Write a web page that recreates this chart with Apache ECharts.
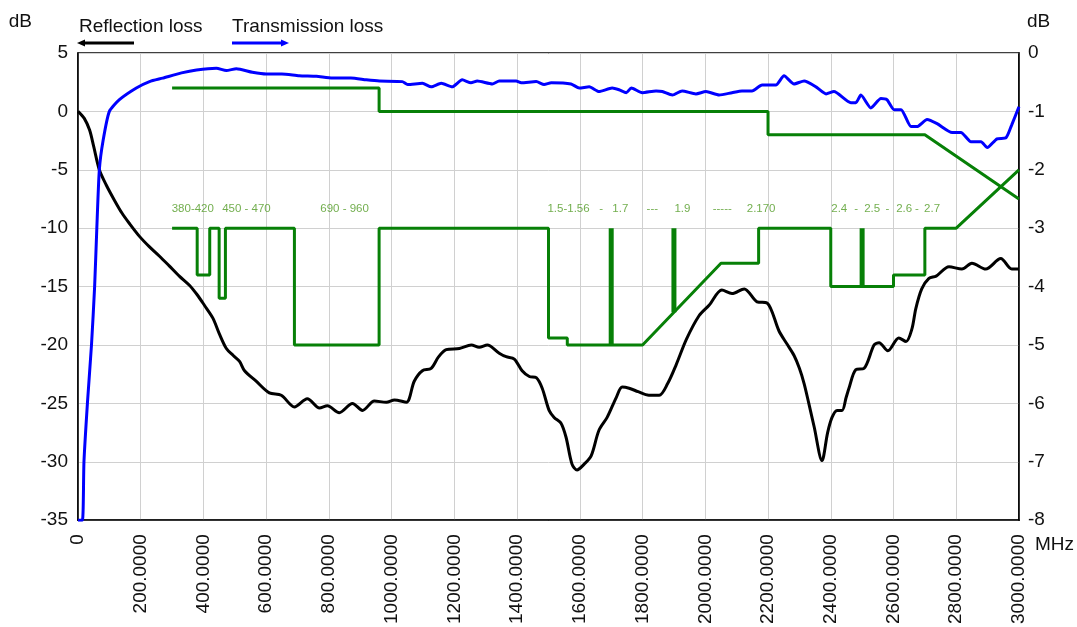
<!DOCTYPE html>
<html>
<head>
<meta charset="utf-8">
<title>Reflection / Transmission loss</title>
<script src="https://cdn.jsdelivr.net/npm/echarts@6/dist/echarts.min.js"></script>
<style>
  html, body { margin: 0; padding: 0; background: #fff; }
  #chart { width: 1077px; height: 627px; }
</style>
</head>
<body>
<div id="chart"></div>
<script>
// reflection loss, left axis [MHz, dB]
const reflectionLoss = [
  [0, 0], [20, -0.6], [37, -1.6], [50, -3], [68, -5], [90, -6.3], [116, -7.6], [140, -8.7],
  [164, -9.6], [196, -10.7], [228, -11.6], [260, -12.4], [290, -13.2], [323, -14.1], [356, -14.9],
  [380, -15.7], [403, -16.6], [430, -17.7], [450, -19], [473, -20.3], [495, -20.9], [515, -21.4],
  [531, -22.2], [568, -23.1], [610, -24.1], [648, -24.3], [690, -25.3], [731, -24.6], [770, -25.4],
  [795, -25.2], [833, -25.8], [875, -25], [907, -25.6], [945, -24.8], [983, -24.9], [1009, -24.7],
  [1047, -24.9], [1072, -23.1], [1098, -22.2], [1126, -22], [1150, -21], [1174, -20.4], [1216, -20.3],
  [1254, -20], [1279, -20.2], [1305, -20], [1343, -20.7], [1365, -21], [1391, -21.2], [1416, -22.2],
  [1439, -22.7], [1461, -22.8], [1480, -23.7], [1502, -25.6], [1518, -26.2], [1540, -26.7], [1556, -27.9],
  [1575, -30.2], [1591, -30.7], [1614, -30.2], [1636, -29.5], [1661, -27.3], [1687, -26.2], [1716, -24.5],
  [1735, -23.6], [1757, -23.7], [1786, -24], [1820, -24.3], [1853, -24.3], [1880, -23.3], [1907, -21.7],
  [1940, -19.5], [1980, -17.5], [2012, -16.6], [2053, -15.3], [2085, -15.6], [2124, -15.2], [2165, -16.3],
  [2197, -16.4], [2235, -18.8], [2260, -19.9], [2283, -20.9], [2300, -22], [2315, -23.3], [2330, -25],
  [2347, -27], [2372, -29.9], [2390, -27.5], [2404, -26.2], [2420, -25.6], [2436, -25.6], [2449, -24.5],
  [2458, -23.7], [2480, -22.1], [2506, -22], [2538, -20], [2554, -19.8], [2582, -20.5], [2617, -19.4],
  [2640, -19.7], [2659, -18.6], [2671, -16.9], [2690, -15.2], [2713, -14.3], [2736, -14.1], [2777, -13.3],
  [2818, -13.5], [2850, -13], [2894, -13.5], [2942, -12.6], [2977, -13.5], [3000, -13.5]
];

// transmission loss, right axis [MHz, dB]
const transmissionLoss = [
  [0, -8], [14, -8], [19, -7], [30, -6], [43, -5], [53, -4], [60, -3], [68, -2], [80, -1.5], [100, -1.0],
  [132, -0.8], [186, -0.6], [228, -0.49], [270, -0.43], [330, -0.34], [378, -0.29], [441, -0.26],
  [473, -0.3], [505, -0.27], [556, -0.33], [600, -0.36], [650, -0.36], [705, -0.39], [760, -0.4],
  [811, -0.43], [870, -0.43], [919, -0.46], [961, -0.48], [1034, -0.49], [1051, -0.54], [1098, -0.52],
  [1126, -0.58], [1158, -0.52], [1193, -0.58], [1225, -0.46], [1253, -0.51], [1273, -0.48], [1321, -0.53],
  [1343, -0.48], [1397, -0.48], [1413, -0.51], [1461, -0.49], [1486, -0.54], [1509, -0.51], [1572, -0.53],
  [1598, -0.6], [1630, -0.58], [1661, -0.66], [1703, -0.6], [1725, -0.63], [1748, -0.68], [1764, -0.6],
  [1799, -0.68], [1843, -0.65], [1863, -0.66], [1895, -0.72], [1926, -0.65], [1970, -0.7], [2002, -0.66],
  [2044, -0.72], [2085, -0.68], [2117, -0.65], [2149, -0.65], [2181, -0.55], [2225, -0.55], [2251, -0.39],
  [2283, -0.53], [2315, -0.48], [2353, -0.58], [2385, -0.7], [2410, -0.66], [2464, -0.85], [2480, -0.85],
  [2496, -0.72], [2528, -0.94], [2560, -0.78], [2579, -0.8], [2602, -0.97], [2624, -0.97], [2656, -1.26],
  [2675, -1.26], [2707, -1.14], [2739, -1.21], [2787, -1.36], [2815, -1.36], [2847, -1.52], [2879, -1.52],
  [2899, -1.62], [2930, -1.47], [2959, -1.45], [2977, -1.23], [3000, -0.92]
];

// transmission limit (right axis)
const transLimit = [
  [300, -0.6], [960, -0.6], [960, -1.0], [2200, -1.0], [2200, -1.4], [2700, -1.4], [3000, -2.5]
];

// reflection limit (left axis)
const reflLimit = [
  [300, -10], [380, -10], [380, -14], [420, -14], [420, -10], [450, -10], [450, -16], [470, -16],
  [470, -10], [690, -10], [690, -20], [960, -20], [960, -10], [1500, -10], [1500, -19.4], [1560, -19.4],
  [1560, -20], [1800, -20], [2050, -13], [2170, -13], [2170, -10], [2400, -10], [2400, -15], [2600, -15],
  [2600, -14], [2700, -14], [2700, -10], [2800, -10], [3000, -5]
];

// narrow band spikes [MHz, from dB, to dB]
const spikes = [[1700, -20, -10], [1900, -17.2, -10], [2500, -15, -10]];

// band labels
const bandX = [366, 537, 850, 1564, 1668, 1729, 1831, 1927, 2054, 2178, 2427, 2481, 2532, 2581, 2634, 2675, 2723];
const bandText = ['380-420', '450 - 470', '690 - 960', '1.5-1.56', '-', '1.7', '---', '1.9', '-----', '2.170',
  '2.4', '-', '2.5', '-', '2.6', '-', '2.7'];

const FONT = "'Liberation Sans', Arial, sans-serif";
const GREEN = '#078007';

const chart = echarts.init(document.getElementById('chart'));

const spikeData = [];
spikes.forEach(s => {
  spikeData.push([s[0], s[1]], [s[0], s[2]], [null, null]);
});

const bandData = bandX.map((x, i) => ({ value: [x, -8.3], name: bandText[i] }));

const option = {
  animation: false,
  backgroundColor: '#fff',
  textStyle: { fontFamily: FONT },
  grid: {
    left: 78, right: 57, top: 53, bottom: 104,
    show: true, borderColor: '#000', borderWidth: 1.5
  },
  xAxis: {
    type: 'value',
    min: 0, max: 3000, interval: 200,
    name: 'MHz',
    nameLocation: 'end',
    nameGap: 16,
    nameTextStyle: { fontSize: 19, color: '#111', fontFamily: FONT, verticalAlign: 'top', padding: [15, 0, 0, 0] },
    axisLine: { onZero: false, lineStyle: { color: '#000', width: 1.5 } },
    axisTick: { show: false },
    axisLabel: {
      rotate: 90, margin: 14, fontSize: 19, color: '#111', fontFamily: FONT,
      formatter: v => (v === 0 ? '0' : v.toFixed(4))
    },
    splitLine: { show: true, lineStyle: { color: '#d0d0d0', width: 1 } }
  },
  yAxis: [
    {
      type: 'value', position: 'left',
      min: -35, max: 5, interval: 5,
      name: 'dB', nameLocation: 'end', nameGap: 22,
      nameTextStyle: { fontSize: 19, color: '#111', fontFamily: FONT, align: 'right', padding: [0, 46, 0, 0] },
      axisLine: { show: true, onZero: false, lineStyle: { color: '#000', width: 1.5 } },
      axisTick: { show: false },
      axisLabel: { margin: 10, fontSize: 19, color: '#111', fontFamily: FONT },
      splitLine: { show: true, lineStyle: { color: '#d0d0d0', width: 1 } }
    },
    {
      type: 'value', position: 'right',
      min: -8, max: 0, interval: 1,
      name: 'dB', nameLocation: 'end', nameGap: 22,
      nameTextStyle: { fontSize: 19, color: '#111', fontFamily: FONT, align: 'left', padding: [0, 0, 0, 8] },
      axisLine: { show: true, onZero: false, lineStyle: { color: '#000', width: 1.5 } },
      axisTick: { show: false },
      axisLabel: { margin: 9, fontSize: 19, color: '#111', fontFamily: FONT },
      splitLine: { show: false }
    }
  ],
  graphic: [
    { type: 'text', left: 79, top: 17, style: { text: 'Reflection loss', font: '19px ' + FONT, fill: '#111' } },
    { type: 'line', shape: { x1: 82, y1: 43, x2: 134, y2: 43 }, style: { stroke: '#000', lineWidth: 3 } },
    { type: 'polygon', shape: { points: [[77, 43], [85, 39.5], [85, 46.5]] }, style: { fill: '#000' } },
    { type: 'text', left: 232, top: 17, style: { text: 'Transmission loss', font: '19px ' + FONT, fill: '#111' } },
    { type: 'line', shape: { x1: 232, y1: 43, x2: 284, y2: 43 }, style: { stroke: '#0000ff', lineWidth: 3 } },
    { type: 'polygon', shape: { points: [[289, 43], [281, 39.5], [281, 46.5]] }, style: { fill: '#0000ff' } }
  ],
  series: [
    {
      name: 'Transmission limit', type: 'line', yAxisIndex: 1,
      data: transLimit, showSymbol: false,
      lineStyle: { color: GREEN, width: 3 }
    },
    {
      name: 'Reflection limit', type: 'line', yAxisIndex: 0,
      data: reflLimit, showSymbol: false,
      lineStyle: { color: GREEN, width: 3 }
    },
    {
      name: 'Bands', type: 'line', yAxisIndex: 0,
      data: spikeData, showSymbol: false, connectNulls: false,
      lineStyle: { color: GREEN, width: 5, cap: 'butt' }
    },
    {
      name: 'Band labels', type: 'scatter', yAxisIndex: 0,
      data: bandData, symbolSize: 0, silent: true,
      label: {
        show: true, position: 'inside', formatter: '{b}',
        fontSize: 11.5, color: '#4f9a22', fontFamily: FONT
      }
    },
    {
      name: 'Reflection loss', type: 'line', yAxisIndex: 0,
      data: reflectionLoss, showSymbol: false, smooth: 0.3,
      lineStyle: { color: '#000', width: 3 }
    },
    {
      name: 'Transmission loss', type: 'line', yAxisIndex: 1,
      data: transmissionLoss, showSymbol: false, smooth: 0.2,
      lineStyle: { color: '#0000ff', width: 3 }
    }
  ]
};

chart.setOption(option);
</script>
</body>
</html>
